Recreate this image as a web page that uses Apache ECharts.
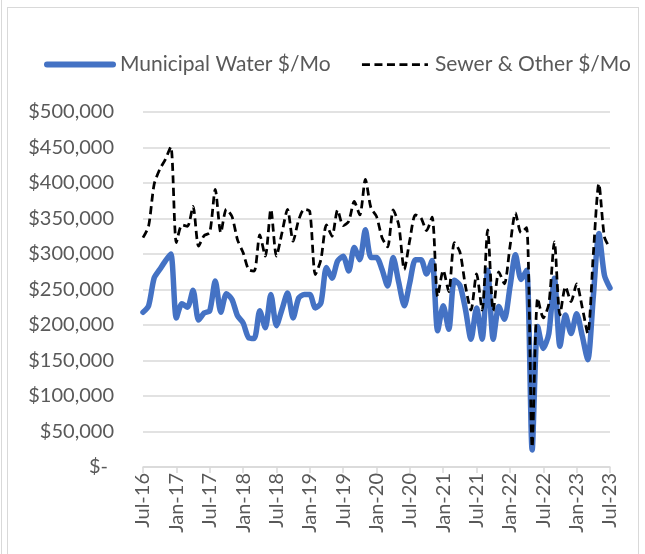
<!DOCTYPE html>
<html>
<head>
<meta charset="utf-8">
<script src="https://cdn.jsdelivr.net/npm/echarts@6/dist/echarts.min.js"></script>
<style>
  html, body { margin: 0; padding: 0; background: #fff; }
  #edge { position: absolute; left: 1px; top: 0; width: 1px; height: 554px; background: #d9d9d9; }
  #frame { position: absolute; left: 7px; top: 7px; width: 632px; height: 560px; border: 1px solid #d9d9d9; box-sizing: border-box; }
  #chart { position: absolute; left: 0; top: 0; width: 645px; height: 554px; }
</style>
</head>
<body>
<div id="edge"></div>
<div id="frame"></div>
<div id="chart"></div>
<script>
// Month labels Jul-16 .. Jul-23
const monthNames = ['Jan','Feb','Mar','Apr','May','Jun','Jul','Aug','Sep','Oct','Nov','Dec'];
const startYear = 2016, startMonth = 6, monthCount = 85;
const categories = [];
for (let k = 0; k < monthCount; k++) {
  const m = (startMonth + k) % 12;
  const y = startYear + Math.floor((startMonth + k) / 12);
  categories.push(monthNames[m] + '-' + String(y).slice(2));
}

const seriesNames = ['Municipal Water $/Mo', 'Sewer & Other $/Mo'];

const municipalWater = [
  218000, 227000, 266000, 278000, 290000, 300000, 210000, 230000, 225000, 249000,
  207000, 217000, 220000, 262000, 218000, 244000, 236000, 213000, 203000, 182000,
  181000, 220000, 196000, 243000, 199000, 222000, 245000, 210000, 238000, 243000,
  243000, 224000, 231000, 281000, 266000, 290000, 297000, 276000, 309000, 292000,
  334000, 295000, 295000, 278000, 255000, 295000, 260000, 227000, 260000, 292000,
  292000, 272000, 291000, 192000, 227000, 194000, 263000, 256000, 222000, 180000,
  224000, 180000, 277000, 180000, 226000, 208000, 253000, 299000, 264000, 277000,
  24000, 198000, 167000, 188000, 266000, 170000, 214000, 188000, 216000, 185000,
  151000, 240000, 329000, 270000, 252000
];

const sewerOther = [
  323000, 339000, 398000, 419000, 433000, 451000, 316000, 341000, 339000, 367000,
  311000, 326000, 330000, 391000, 330000, 363000, 353000, 320000, 302000, 278000,
  276000, 327000, 297000, 363000, 297000, 330000, 363000, 318000, 348000, 363000,
  360000, 271000, 292000, 341000, 325000, 362000, 340000, 346000, 374000, 355000,
  405000, 365000, 353000, 323000, 310000, 362000, 341000, 278000, 320000, 355000,
  351000, 333000, 352000, 240000, 277000, 247000, 316000, 303000, 255000, 221000,
  272000, 221000, 334000, 220000, 275000, 258000, 310000, 358000, 330000, 337000,
  28000, 238000, 210000, 230000, 317000, 214000, 254000, 233000, 258000, 225000,
  188000, 300000, 399000, 324000, 308000
];

const yMin = 0, yMax = 500000, yStep = 50000;

const FONT = 'Lato';
const TEXT = '#595959';

const chart = echarts.init(document.getElementById('chart'), null, { renderer: 'canvas' });
chart.setOption({
  animation: false,
  textStyle: { fontFamily: FONT },
  legend: {
    top: 49,
    left: 39,
    itemWidth: 66,
    itemHeight: 14,
    itemGap: 30,
    itemStyle: { opacity: 0 },
    textStyle: { fontFamily: FONT, fontSize: 21, color: TEXT, padding: [0, 0, 0, 2] },
    data: [
      { name: seriesNames[0], itemStyle: { opacity: 0 },
        lineStyle: { color: '#4472C4', width: 6, cap: 'round' } },
      { name: seriesNames[1], itemStyle: { opacity: 0 },
        lineStyle: { color: '#000000', width: 2.75, type: [8, 4.5], cap: 'butt' } }
    ]
  },
  grid: { left: 143, right: 35, top: 112, bottom: 87, containLabel: false },
  xAxis: {
    type: 'category',
    data: categories,
    boundaryGap: false,
    axisLine: { show: true, lineStyle: { color: '#d9d9d9', width: 1.5 } },
    axisTick: { show: true, interval: 5, length: 6, lineStyle: { color: '#d9d9d9', width: 1.5 } },
    axisLabel: {
      interval: 5, rotate: 90, margin: 6,
      fontFamily: FONT, fontSize: 20, color: TEXT
    },
    splitLine: { show: false }
  },
  yAxis: {
    type: 'value',
    min: yMin, max: yMax, interval: yStep,
    axisLine: { show: false },
    axisTick: { show: false },
    splitLine: { show: true, lineStyle: { color: '#d9d9d9', width: 1.5 } },
    axisLabel: {
      margin: 29,
      fontFamily: FONT, fontSize: 20, color: TEXT,
      formatter: function (v) {
        if (v === 0) return '{z|$-}';
        return '$' + v.toLocaleString('en-US');
      },
      rich: { z: { fontFamily: FONT, fontSize: 20, color: TEXT, padding: [0, 6, 0, 0] } }
    }
  },
  series: [
    {
      name: seriesNames[0],
      type: 'line',
      data: municipalWater,
      symbol: 'none',
      smooth: 0.25,
      lineStyle: { color: '#4472C4', width: 5.5, cap: 'round', join: 'round' },
      itemStyle: { color: '#4472C4' },
      z: 2
    },
    {
      name: seriesNames[1],
      type: 'line',
      data: sewerOther,
      symbol: 'none',
      smooth: 0.25,
      lineStyle: { color: '#000000', width: 2.75, type: [8, 4.5], cap: 'butt', join: 'round' },
      itemStyle: { color: '#000000' },
      z: 3
    }
  ]
});
</script>
</body>
</html>
